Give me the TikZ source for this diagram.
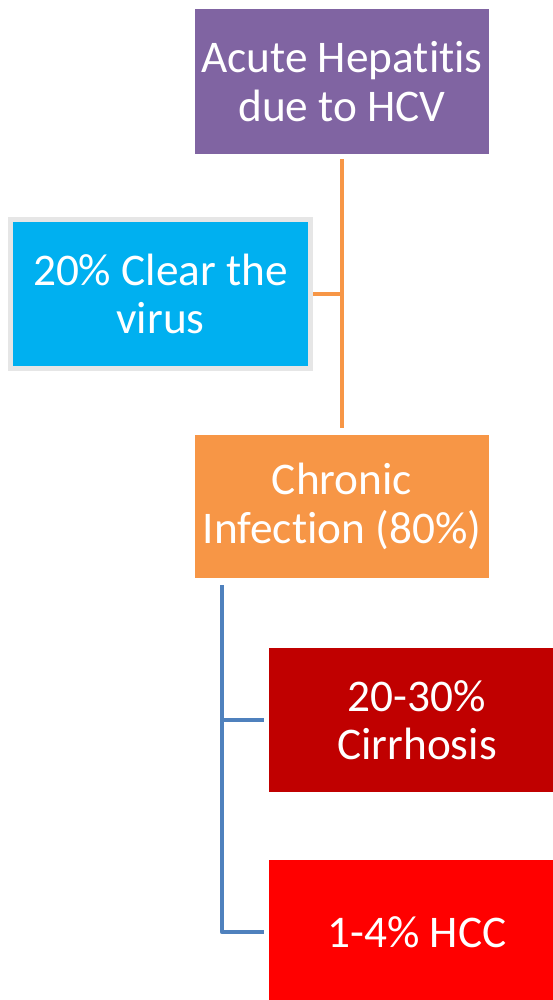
\documentclass[tikz,border=0pt]{standalone}
\usepackage{fontspec}
\setmainfont{Carlito}[Ligatures=NoCommon]
\definecolor{cpurple}{HTML}{8064A2}
\definecolor{corange}{HTML}{F79646}
\definecolor{cblue}{HTML}{00B0F0}
\definecolor{cdark}{HTML}{C00000}
\definecolor{cred}{HTML}{FF0000}
\definecolor{cline}{HTML}{4F81BD}
\definecolor{cgray}{HTML}{E6E6E6}
\begin{document}
\begin{tikzpicture}[x=1pt,y=1pt,
  box/.style={rectangle, inner sep=0pt, text=white, align=center,
    font=\fontsize{45.3}{48.5}\selectfont},
  oline/.style={draw=corange, line width=4.5pt},
  bline/.style={draw=cline, line width=4.5pt, line join=round}]
\useasboundingbox (0,0) rectangle (553,-1000);
\begin{scope}
\clip (0,0) rectangle (553,-1000);
\node[box, fill=cpurple, minimum width=294, minimum height=145] (acute) at (342,-81.5) {Acute Hepatitis\\due to HCV};
\node[box, fill=cblue, draw=cgray, line width=5pt, minimum width=300, minimum height=149] (clear) at (160.5,-294) {20\% Clear the\\virus};
\node[box, fill=corange, minimum width=294, minimum height=143] (chronic) at (342,-506.5) {Chronic\\Infection (80\%)};
\node[box, fill=cdark, minimum width=296, minimum height=144] (cirr) at (417,-720) {20-30\%\\Cirrhosis};
\node[box, fill=cred, minimum width=296, minimum height=144] (hcc) at (417,-932) {1-4\% HCC};
\draw[oline, shorten <=5pt, shorten >=7pt] (acute.south) -- (chronic.north);
\draw[oline] (clear.east) -- (clear.east -| acute.south);
\coordinate (bt) at (222,-585);
\draw[bline] (bt) |- ([xshift=-5pt]cirr.west);
\draw[bline] (bt) |- ([xshift=-5pt]hcc.west);
\end{scope}
\end{tikzpicture}
\end{document}
